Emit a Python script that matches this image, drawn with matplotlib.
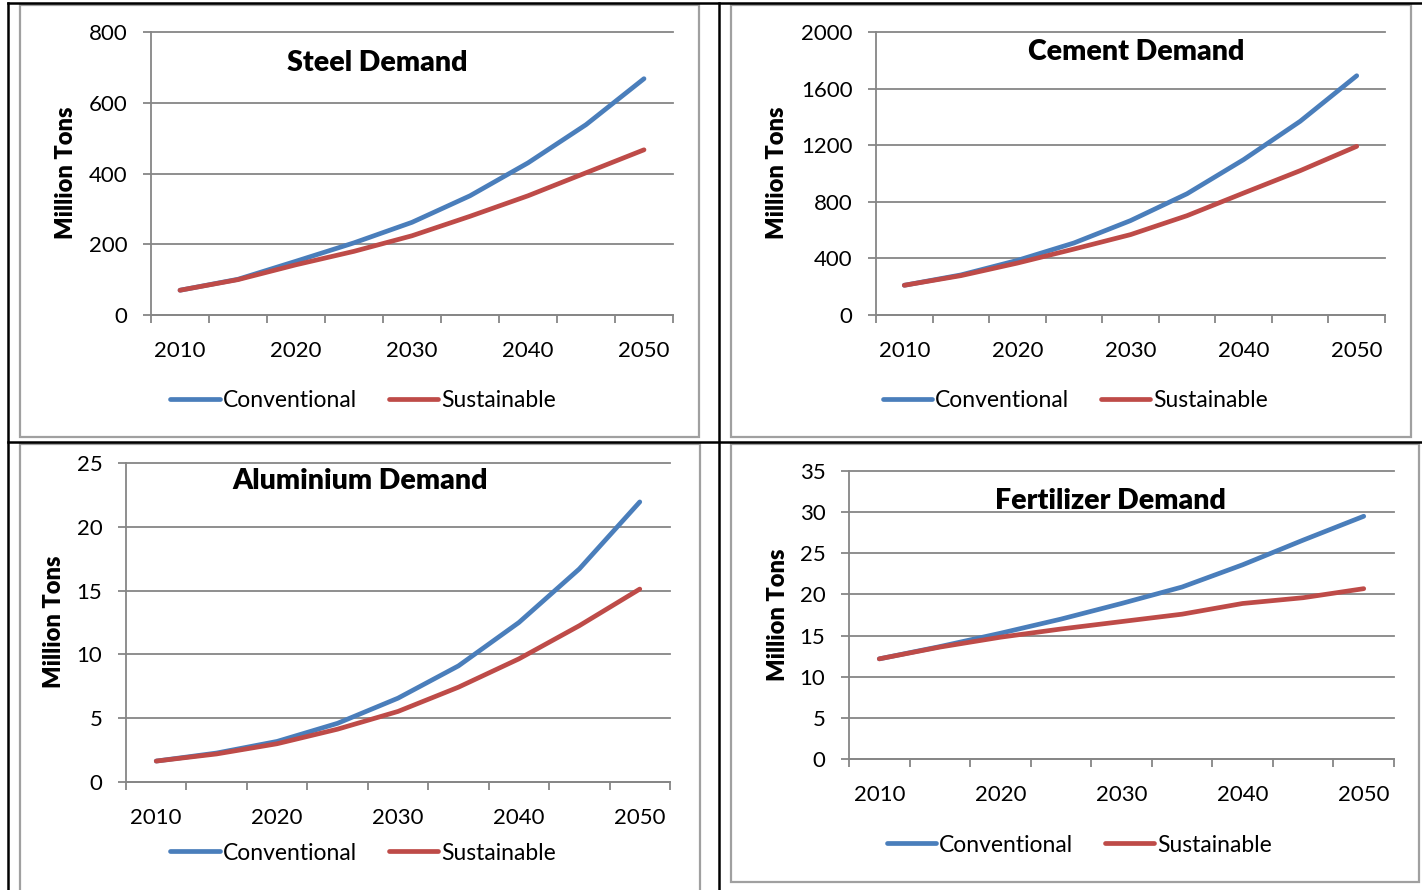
import matplotlib
matplotlib.use("Agg")
import matplotlib.pyplot as plt
from matplotlib.lines import Line2D
from matplotlib.patches import Rectangle

plt.rcParams['font.family'] = ['Lato', 'DejaVu Sans']

# Projection years (category axis) and the labels shown on it
years = [2010, 2015, 2020, 2025, 2030, 2035, 2040, 2045, 2050]
year_labels = ['2010', '2020', '2030', '2040', '2050']

series_names = ['Conventional', 'Sustainable']

# Demand in million tons
steel_conv = [70, 101, 152, 204, 262, 337, 430, 538, 668]
steel_sust = [70, 100, 142, 180, 224, 279, 337, 402, 467]

cement_conv = [210, 283, 386, 509, 667, 857, 1098, 1369, 1691]
cement_sust = [210, 278, 367, 466, 568, 702, 862, 1020, 1192]

alu_conv = [1.64, 2.27, 3.18, 4.6, 6.57, 9.1, 12.5, 16.7, 21.95]
alu_sust = [1.64, 2.2, 3.0, 4.14, 5.53, 7.43, 9.65, 12.25, 15.12]

fert_conv = [12.17, 13.66, 15.28, 17.0, 18.9, 20.9, 23.6, 26.6, 29.5]
fert_sust = [12.17, 13.6, 14.8, 15.8, 16.7, 17.6, 18.9, 19.6, 20.7]

steel_ticks = [0, 200, 400, 600, 800]
cement_ticks = [0, 400, 800, 1200, 1600, 2000]
alu_ticks = [0, 5, 10, 15, 20, 25]
fert_ticks = [0, 5, 10, 15, 20, 25, 30, 35]

W, H = 1422, 890
BLUE = '#4A7EBB'
RED = '#BE4B48'
GRID = '#868686'
FRAME = '#A0A0A0'
LW = 3.4

fig = plt.figure(figsize=(W / 100, H / 100), dpi=100)


def fx(px):
    return px / W


def fy(py):
    return 1 - py / H


def panel(title, conv, sust, yticks, plot_box, frame_box, title_xy, ylabel_xy, legend_xy):
    # chart frame
    fl, ft, fr, fb = frame_box
    fig.patches.append(Rectangle((fx(fl), fy(fb)), fx(fr - fl), (fb - ft) / H,
                                 transform=fig.transFigure, fill=False,
                                 edgecolor=FRAME, linewidth=1.6, zorder=1))
    l, t, r, b = plot_box
    ax = fig.add_axes([fx(l), fy(b), fx(r - l), (b - t) / H])
    ax.set_facecolor('none')
    idx = list(range(len(years)))
    ax.plot(idx, conv, color=BLUE, linewidth=LW, solid_capstyle='round',
            solid_joinstyle='round', label=series_names[0], zorder=3)
    ax.plot(idx, sust, color=RED, linewidth=LW, solid_capstyle='round',
            solid_joinstyle='round', label=series_names[1], zorder=4)
    ax.set_xlim(-0.5, len(years) - 0.5)
    ax.set_ylim(yticks[0], yticks[-1])
    ax.set_yticks(yticks)
    ax.set_yticklabels([str(v) for v in yticks])
    ax.set_xticks([0, 2, 4, 6, 8])
    ax.set_xticklabels(year_labels)
    ax.set_xticks([i - 0.5 for i in range(len(years) + 1)], minor=True)
    ax.tick_params(axis='x', which='major', length=0, pad=19, labelsize=16)
    ax.tick_params(axis='x', which='minor', length=6, width=1.3, color=GRID, direction='out')
    ax.tick_params(axis='y', which='major', length=6, width=1.3, color=GRID, pad=11, labelsize=16)
    for s in ('top', 'right'):
        ax.spines[s].set_visible(False)
    for s in ('left', 'bottom'):
        ax.spines[s].set_color(GRID)
        ax.spines[s].set_linewidth(1.3)
    ax.yaxis.grid(True, color=GRID, linewidth=1.3)
    ax.set_axisbelow(True)
    for ln in ax.get_ygridlines():
        ln.set_clip_on(False)

    fig.text(fx(title_xy[0]), fy(title_xy[1]), title, ha='center', va='center',
             fontsize=20.5, fontweight='heavy')
    fig.text(fx(ylabel_xy[0]), fy(ylabel_xy[1]), 'Million Tons', ha='center', va='center',
             rotation=90, fontsize=17, fontweight='heavy')

    handles = [Line2D([], [], color=BLUE, linewidth=LW, solid_capstyle='round'),
               Line2D([], [], color=RED, linewidth=LW, solid_capstyle='round')]
    fig.legend(handles, series_names, loc='center',
               bbox_to_anchor=(fx(legend_xy[0]), fy(legend_xy[1])),
               ncol=2, frameon=False, fontsize=16.5, handlelength=2.15,
               handletextpad=0.12, columnspacing=1.4, borderpad=0)
    return ax


panel('Steel Demand', steel_conv, steel_sust, steel_ticks,
      (151, 32, 673, 315), (20, 5, 699, 437),
      (377, 63), (66, 173), (363, 401))
panel('Cement Demand', cement_conv, cement_sust, cement_ticks,
      (876, 32, 1385, 315), (731, 5, 1411, 437),
      (1136, 52), (777, 173), (1075, 401))
panel('Aluminium Demand', alu_conv, alu_sust, alu_ticks,
      (126, 463, 670, 782), (20, 444, 700, 895),
      (360, 481), (54, 622), (363, 853))
panel('Fertilizer Demand', fert_conv, fert_sust, fert_ticks,
      (849, 471, 1394, 759), (731, 444, 1419, 882),
      (1110, 501), (778, 615), (1079, 845))

# table rules around the four charts
for (x0, y0, x1, y1) in [(8, 3, 1422, 3), (8, 442, 1422, 442),
                         (8, 3, 8, 890), (719, 3, 719, 890)]:
    fig.lines.append(Line2D([fx(x0), fx(x1)], [fy(y0), fy(y1)],
                            transform=fig.transFigure, color='black', linewidth=1.8))

fig.savefig('out.png', dpi=100, facecolor='white')
